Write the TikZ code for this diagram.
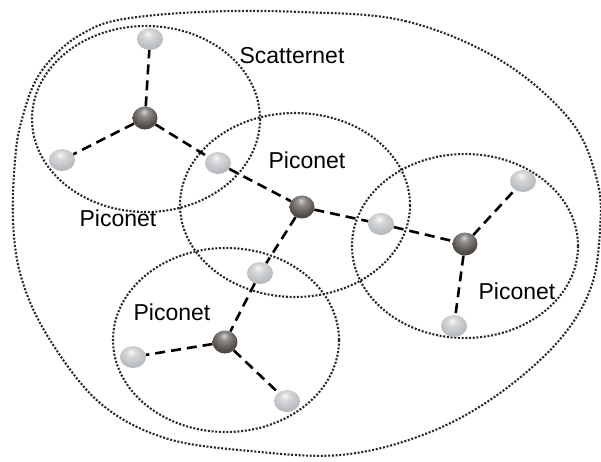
\documentclass[tikz,border=0pt]{standalone}
\usepackage{fontspec}
\setmainfont{Liberation Sans}
\usetikzlibrary{shapes.geometric}
\definecolor{darkball}{RGB}{82,77,72}
\definecolor{lightball}{RGB}{184,187,190}
\definecolor{dotcol}{RGB}{40,40,40}
\pgfdeclareradialshading{lballsh}{\pgfpoint{-4bp}{12bp}}{%
  color(0bp)=(white!90!lightball); color(10bp)=(white!40!lightball);
  color(28bp)=(lightball); color(48bp)=(lightball!80!black); color(70bp)=(lightball!65!black)}
\pgfdeclareradialshading{dballsh}{\pgfpoint{-2bp}{14bp}}{%
  color(0bp)=(white!75!darkball); color(9bp)=(white!35!darkball);
  color(26bp)=(darkball); color(46bp)=(darkball!75!black); color(70bp)=(darkball!60!black)}
\tikzset{
  dotline/.style={line width=2.1pt, dash pattern=on 2pt off 1.7pt, dotcol},
  link/.style={line width=2.6pt, dash pattern=on 10pt off 6pt, black},
  lball/.style={ellipse, minimum width=26pt, minimum height=22pt, inner sep=0pt, shading=lballsh},
  dball/.style={ellipse, minimum width=25pt, minimum height=23pt, inner sep=0pt, shading=dballsh},
  lbl/.style={font=\fontsize{23}{23}\selectfont, inner sep=0pt}
}
\begin{document}
\begin{tikzpicture}[x=1pt,y=-1pt]
\useasboundingbox (0,0) rectangle (601,461);
% scatternet boundary
\draw[dotline] plot[smooth cycle, tension=0.6] coordinates {
 (300,12) (405,21) (500,60) (570,120) (597,180) (600,230) (590,290) (555,345) (490,400)
 (420,436) (340,455) (250,451) (165,438) (100,403) (50,340) (22,280) (13,220)
 (16,150) (24,112) (36,80) (55,55) (80,35) (118,20) (200,12)};
% piconets
\draw[dotline] (146,119) ellipse [x radius=114, y radius=93];
\draw[dotline] (295,205) ellipse [x radius=115, y radius=92];
\draw[dotline] (465,246) ellipse [x radius=113, y radius=92];
\draw[dotline] (226,340) ellipse [x radius=113, y radius=92];
% nodes
\node[dball] (m1) at (145,118) {};
\node[dball] (m2) at (302,207) {};
\node[dball] (m3) at (465,244) {};
\node[dball] (m4) at (225,342) {};
\node[lball] (s1) at (150,39) {};
\node[lball] (s2) at (62,160) {};
\node[lball] (s3) at (218,163) {};
\node[lball] (s4) at (381,224) {};
\node[lball] (s5) at (523,181) {};
\node[lball] (s6) at (454,326) {};
\node[lball] (s7) at (260,273) {};
\node[lball] (s8) at (133,357) {};
\node[lball] (s9) at (287,401) {};
% links
\draw[link] (m1) -- (s1);
\draw[link] (m1) -- (s2);
\draw[link] (m1) -- (s3);
\draw[link] (s3) -- (m2);
\draw[link] (m2) -- (s4);
\draw[link] (s4) -- (m3);
\draw[link] (m3) -- (s5);
\draw[link] (m3) -- (s6);
\draw[link] (m2) -- (s7);
\draw[link] (s7) -- (m4);
\draw[link] (m4) -- (s8);
\draw[link] (m4) -- (s9);
% labels
\node[lbl] (t0) at (292,56) {Scatternet};
\node[lbl] (t1) at (307,160) {Piconet};
\node[lbl] (t2) at (118,218) {Piconet};
\node[lbl] (t3) at (172,312) {Piconet};
\node[lbl] (t4) at (517,291) {Piconet};
\end{tikzpicture}
\end{document}
